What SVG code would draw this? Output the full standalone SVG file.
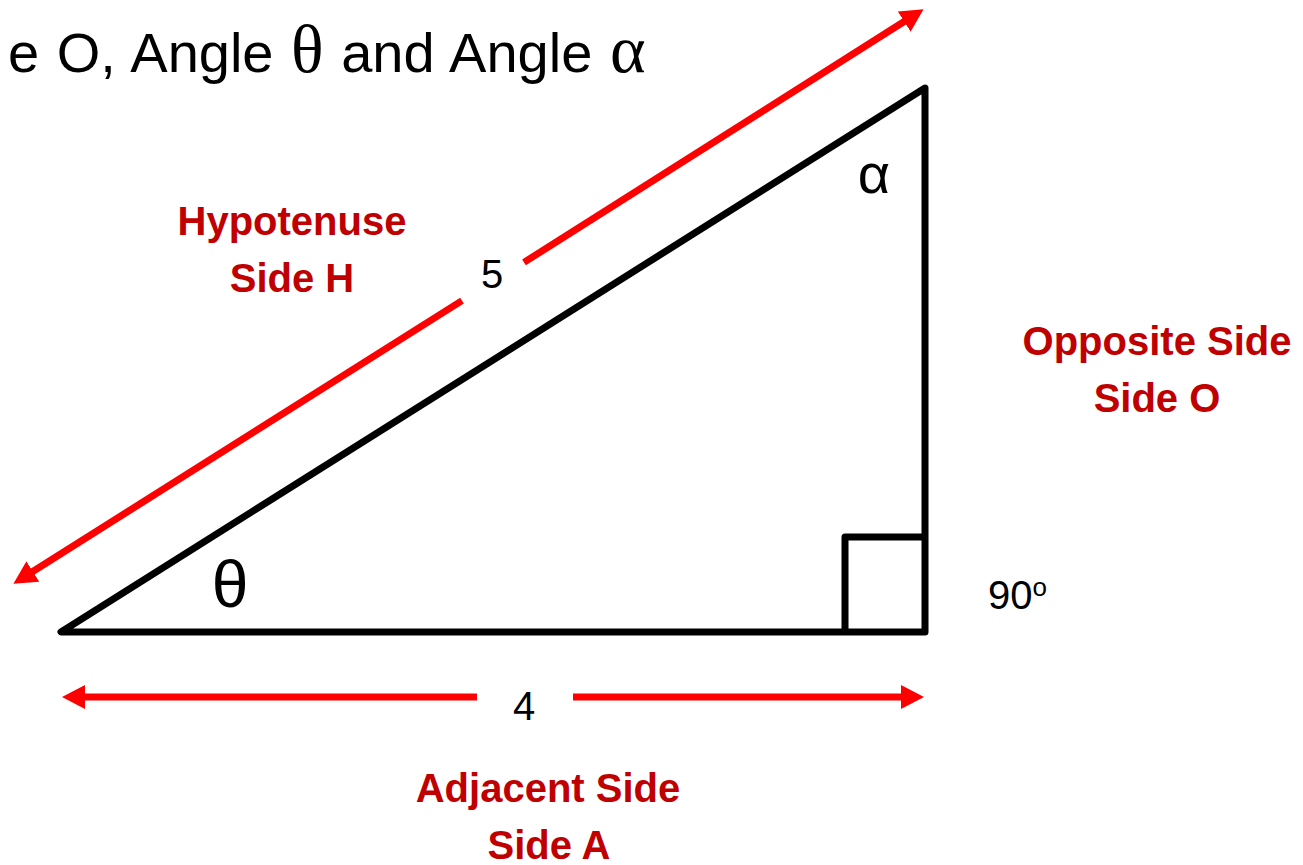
<svg xmlns="http://www.w3.org/2000/svg" width="1303" height="865" viewBox="0 0 1303 865">
<style>
.lbl{font-family:"Liberation Sans",Arial,sans-serif;font-weight:bold;font-size:40px;fill:#C00000;text-anchor:middle}
.num{font-family:"Liberation Sans",Arial,sans-serif;font-size:40px;fill:#000;text-anchor:middle}
.title{font-family:"Liberation Sans",Arial,sans-serif;font-size:56px;fill:#000;word-spacing:2px}
.gr{font-family:"Liberation Serif","Times New Roman",serif;font-size:68px}
.arr{stroke:#FF0000;stroke-width:7;fill:none}
</style>
<defs>
<marker id="ah" markerUnits="userSpaceOnUse" markerWidth="24" markerHeight="24" refX="1" refY="12" orient="auto" viewBox="0 0 24 24">
<path d="M0,0 L23,12 L0,24 z" fill="#FF0000"/>
</marker>
</defs>
<rect width="1303" height="865" fill="#fff"/>
<g id="title">
<text class="title" x="8" y="72">e O, Angle <tspan class="gr">θ</tspan> and Angle <tspan class="gr">α</tspan></text>
</g>
<g id="triangle">
<polygon points="61,632 925,632 925,88" fill="none" stroke="#000" stroke-width="7" stroke-linejoin="round"/>
<polyline points="845,632 845,537 925,537" fill="none" stroke="#000" stroke-width="7" stroke-linejoin="round"/>
</g>
<g id="connectors">
<path class="arr" d="M462,300.6 L32,572" marker-end="url(#ah)"/>
<path class="arr" d="M524,262.4 L905,21" marker-end="url(#ah)"/>
<path class="arr" d="M477,697 L84,697" marker-end="url(#ah)"/>
<path class="arr" d="M573,697 L902,697" marker-end="url(#ah)"/>
</g>
<g id="angles">
<text x="230" y="607" font-family="Liberation Sans,Arial,sans-serif" font-size="66" text-anchor="middle">θ</text>
<text x="874" y="193" font-family="Liberation Sans,Arial,sans-serif" font-size="56" text-anchor="middle">α</text>
<text x="988" y="609" font-family="Liberation Sans,Arial,sans-serif" font-size="40">90<tspan font-size="26" dy="-13">o</tspan></text>
</g>
<g id="hyp-label">
<text class="lbl" x="292" y="235">Hypotenuse</text>
<text class="lbl" x="292" y="292">Side H</text>
<text class="num" x="492" y="288">5</text>
</g>
<g id="opp-label">
<text class="lbl" x="1157" y="355">Opposite Side</text>
<text class="lbl" x="1157" y="412">Side O</text>
</g>
<g id="adj-label">
<text class="num" x="524" y="720">4</text>
<text class="lbl" x="548" y="802">Adjacent Side</text>
<text class="lbl" x="549" y="859">Side A</text>
</g>
</svg>
